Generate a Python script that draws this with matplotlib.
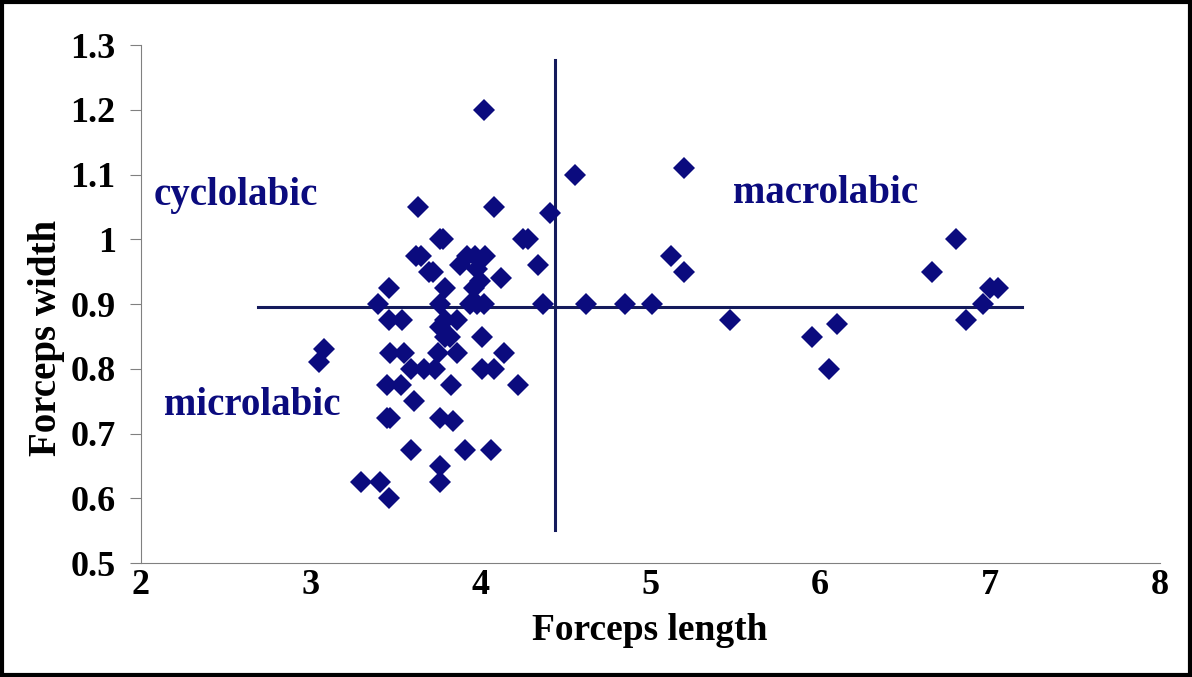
import numpy as np
import matplotlib
matplotlib.use("Agg")
from matplotlib import pyplot as plt
from matplotlib.patches import Rectangle

# forceps length / width
length = [4.02, 4.56, 5.20, 3.63, 4.08, 4.41, 3.76, 3.78, 4.25, 4.28,
          3.62, 3.65, 3.70, 3.72, 4.34, 3.46, 3.40, 3.92, 3.97, 4.03,
          3.88, 3.98, 4.12, 3.79, 3.96, 4.00, 3.76, 3.94, 4.02, 3.98,
          4.37, 4.62, 4.85, 5.01, 5.12, 5.20, 5.47, 5.95, 6.10, 6.05,
          6.66, 6.80, 6.86, 6.96, 7.00, 7.05, 3.05, 3.08, 3.46, 3.54,
          3.79, 3.86, 3.76, 3.82, 3.79, 3.47, 3.55, 3.75, 3.86, 4.01,
          4.14, 3.59, 3.73, 3.67, 4.01, 4.08, 3.83, 4.22, 3.45, 3.53,
          3.61, 3.47, 3.45, 3.76, 3.84, 3.59, 3.91, 4.06, 3.76, 3.76,
          3.30, 3.41, 3.46]
width = [1.20, 1.10, 1.11, 1.05, 1.05, 1.04, 1.00, 1.00, 1.00, 1.00,
         0.975, 0.975, 0.95, 0.95, 0.96, 0.925, 0.90, 0.975, 0.975, 0.975,
         0.96, 0.955, 0.94, 0.925, 0.925, 0.935, 0.90, 0.90, 0.90, 0.90,
         0.90, 0.90, 0.90, 0.90, 0.975, 0.95, 0.875, 0.85, 0.87, 0.80,
         0.95, 1.00, 0.875, 0.90, 0.925, 0.925, 0.81, 0.83, 0.875, 0.875,
         0.875, 0.875, 0.865, 0.85, 0.85, 0.825, 0.825, 0.825, 0.825, 0.85,
         0.825, 0.80, 0.80, 0.80, 0.80, 0.80, 0.775, 0.775, 0.775, 0.775,
         0.75, 0.725, 0.725, 0.725, 0.72, 0.675, 0.675, 0.675, 0.65, 0.625,
         0.625, 0.625, 0.60]

# dividing lines
hline_y, hline_x = 0.895, [2.69, 7.19]
vline_x, vline_y = 4.44, [0.551, 1.277]

labels = ["cyclolabic", "macrolabic", "microlabic"]
label_pos = [(2.077, 1.068), (5.49, 1.071), (2.135, 0.743)]

navy = "#0b0b7e"
line_col = "#141a5c"

plt.rcParams['font.family'] = ['Liberation Serif', 'DejaVu Serif']
fig = plt.figure(figsize=(11.92, 6.77), dpi=100)
ax = fig.add_axes([0.118, 0.168, 0.855, 0.7655])

ax.plot(hline_x, [hline_y, hline_y], color=line_col, lw=2.2, zorder=1)
ax.plot([vline_x, vline_x], vline_y, color=line_col, lw=2.2, zorder=1)
ax.plot(length, width, 'D', color=navy, ms=11, mew=0, zorder=2)

for txt, (x, y) in zip(labels, label_pos):
    ax.text(x, y, txt, color=navy, fontsize=28, fontweight='bold', va='center', ha='left')

ax.set_xlim(2, 8)
ax.set_ylim(0.5, 1.3)
ax.set_xticks(range(2, 9))
ax.set_yticks(np.arange(0.5, 1.31, 0.1))
ax.set_yticklabels(["0.5", "0.6", "0.7", "0.8", "0.9", "1", "1.1", "1.2", "1.3"])
for s in ['top', 'right']:
    ax.spines[s].set_visible(False)
for s in ['left', 'bottom']:
    ax.spines[s].set_color('#808080')
ax.tick_params(colors='#808080', labelcolor='black', labelsize=26, length=8, pad=10)
ax.tick_params(axis='x', length=0, pad=4)
for lab in ax.get_xticklabels() + ax.get_yticklabels():
    lab.set_fontweight('bold')
ax.set_xlabel("Forceps length", fontsize=27, fontweight='bold', labelpad=8)
ax.set_ylabel("Forceps width", fontsize=28, fontweight='bold', labelpad=4, y=0.434)

fig.patches.append(Rectangle((0.002, 0.003), 0.996, 0.994, transform=fig.transFigure,
                             fill=False, edgecolor='black', lw=3))
fig.savefig("out.png", dpi=100)
